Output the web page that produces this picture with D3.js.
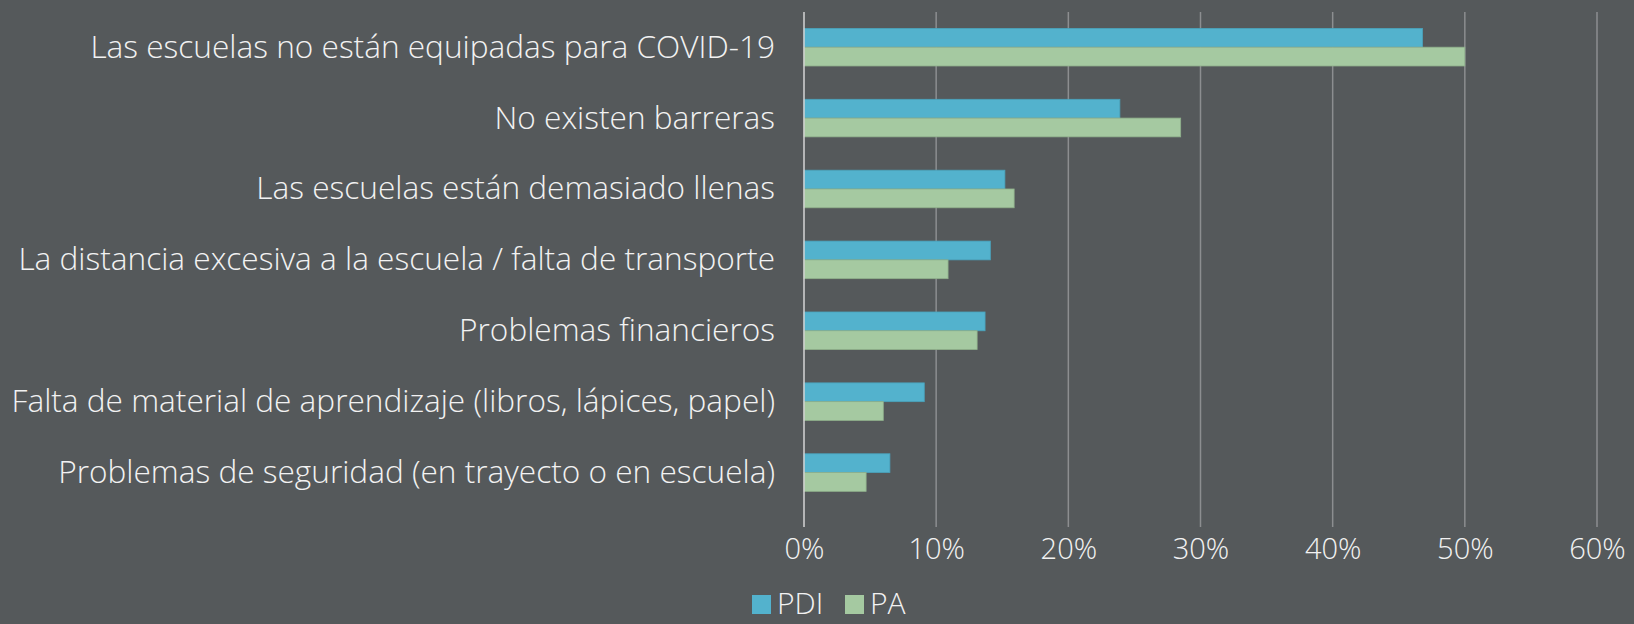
<!DOCTYPE html>
<html>
<head>
<meta charset="utf-8">
<script src="https://cdn.jsdelivr.net/npm/d3@7"></script>
<style>
  html, body { margin: 0; padding: 0; background: #55595b; }
  svg { display: block; }
  text { font-family: "Open Sans", "Noto Sans", sans-serif; font-weight: 300; fill: #f2f2f2; }
</style>
</head>
<body>
<svg id="chart" width="1634" height="624"></svg>
<script>
// Barriers to school attendance, share of respondents
const categories = [
  "Las escuelas no están equipadas para COVID-19",
  "No existen barreras",
  "Las escuelas están demasiado llenas",
  "La distancia excesiva a la escuela / falta de transporte",
  "Problemas financieros",
  "Falta de material de aprendizaje (libros, lápices, papel)",
  "Problemas de seguridad (en trayecto o en escuela)"
];
const seriesNames = ["PDI", "PA"];
const pdiValues = [0.468, 0.239, 0.152, 0.141, 0.137, 0.091, 0.065];
const paValues  = [0.500, 0.285, 0.159, 0.109, 0.131, 0.060, 0.047];
const tickValues = [0, 0.1, 0.2, 0.3, 0.4, 0.5, 0.6];

const colors = { PDI: "#53b2cd", PA: "#a5c9a1" };
const strokes = { PDI: "#4aa2bb", PA: "#8fb08b" };

const svg = d3.select("#chart");

const x = d3.scaleLinear().domain([0, 0.6]).range([804, 1597]);
const y = d3.scaleBand().domain(categories).range([11.75, 508])
  .paddingInner(0.47).paddingOuter(0.235);
const ySub = d3.scaleBand().domain(seriesNames).range([0, y.bandwidth()]);

const plotTop = 12, plotBottom = 527;

// vertical gridlines
svg.append("g")
  .selectAll("line")
  .data(tickValues.filter(d => d > 0))
  .join("line")
  .attr("x1", d => x(d)).attr("x2", d => x(d))
  .attr("y1", plotTop).attr("y2", plotBottom)
  .attr("stroke", "#8c8e90")
  .attr("stroke-width", 1.5);

// bars
const rows = categories.map((c, i) => ({ cat: c, PDI: pdiValues[i], PA: paValues[i] }));
const groups = svg.append("g")
  .selectAll("g")
  .data(rows)
  .join("g")
  .attr("transform", d => `translate(0,${y(d.cat)})`);

groups.selectAll("rect")
  .data(d => seriesNames.map(s => ({ s, v: d[s] })))
  .join("rect")
  .attr("x", x(0))
  .attr("y", d => ySub(d.s))
  .attr("width", d => x(d.v) - x(0))
  .attr("height", ySub.bandwidth())
  .attr("fill", d => colors[d.s])
  .attr("stroke", d => strokes[d.s])
  .attr("stroke-width", 0.8);

// category axis line
svg.append("line")
  .attr("x1", x(0)).attr("x2", x(0))
  .attr("y1", plotTop).attr("y2", plotBottom)
  .attr("stroke", "#d4d4d4")
  .attr("stroke-width", 1.5);

// category labels
svg.append("g")
  .selectAll("text")
  .data(categories)
  .join("text")
  .attr("x", 775)
  .attr("y", d => y(d) + y.bandwidth() / 2)
  .attr("dy", "0.33em")
  .attr("text-anchor", "end")
  .style("font-size", "31.6px")
  .text(d => d);

// value axis tick labels
const xAxis = d3.axisBottom(x)
  .tickValues(tickValues)
  .tickFormat(d3.format(".0%"))
  .tickSize(0)
  .tickPadding(0);
const axisG = svg.append("g")
  .attr("transform", `translate(0,${plotBottom})`)
  .call(xAxis);
axisG.select(".domain").remove();
axisG.selectAll("text")
  .attr("y", 32)
  .attr("dy", 0)
  .style("font-size", "29px")
  .style("font-family", "'Open Sans', 'Noto Sans', sans-serif")
  .style("font-weight", 300)
  .attr("fill", "#f2f2f2");

// legend
const legend = svg.append("g").attr("transform", "translate(752,595)");
const legendX = { PDI: 0, PA: 93 };
const items = legend.selectAll("g")
  .data(seriesNames)
  .join("g")
  .attr("transform", d => `translate(${legendX[d]},0)`);
items.append("rect")
  .attr("width", 19).attr("height", 19)
  .attr("fill", d => colors[d]);
items.append("text")
  .attr("x", 25)
  .attr("y", 19)
  .style("font-size", "30px")
  .text(d => d);
</script>
</body>
</html>
